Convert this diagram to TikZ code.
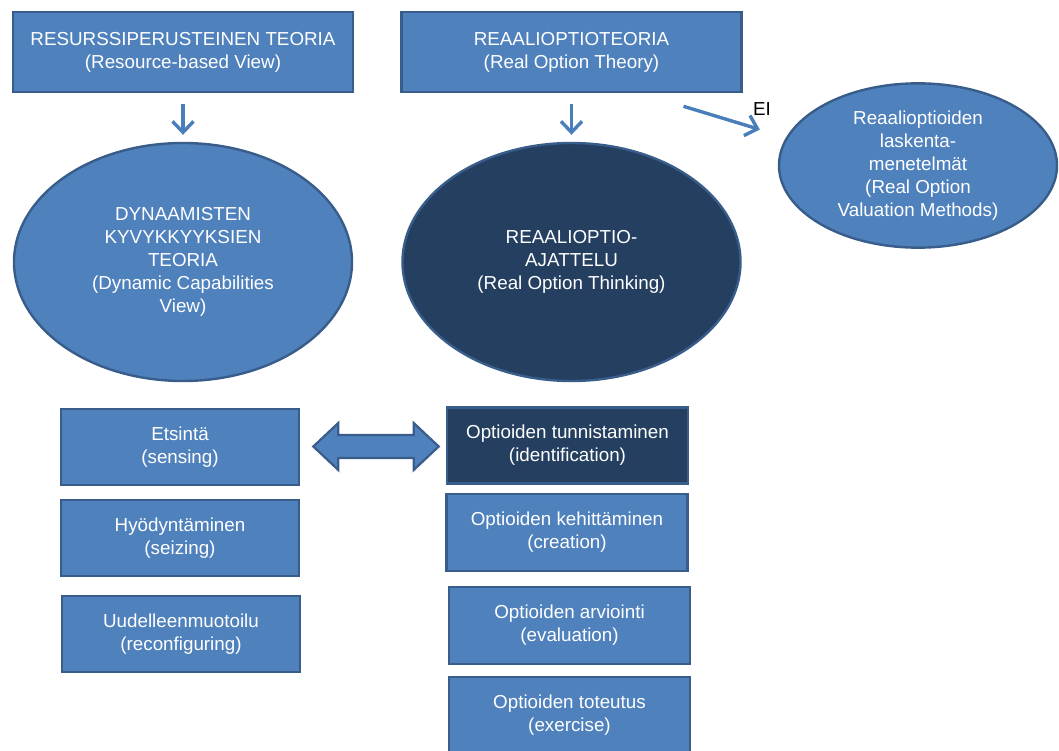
\documentclass[tikz,border=0pt]{standalone}
\usepackage{fontspec}
\setmainfont{Liberation Sans}
\usetikzlibrary{arrows.meta,shapes.geometric,calc}
\definecolor{boxblue}{HTML}{4F81BD}
\definecolor{boxline}{HTML}{385D8A}
\definecolor{darkblue}{HTML}{243F60}
\definecolor{arrowblue}{HTML}{4A7EBB}

\begin{document}
\begin{tikzpicture}[x=1pt,y=-1pt,
  txt/.style={text=white,align=center,font=\fontsize{18.8}{23}\selectfont},
  theory/.style={txt,draw=boxline,fill=boxblue,line width=2.6pt,minimum width=340,minimum height=80},
  bubble/.style={txt,ellipse,draw=boxline,fill=boxblue,line width=2.4pt,minimum width=338,minimum height=238},
  capab/.style={txt,draw=boxline,fill=boxblue,line width=2.6pt,minimum width=238,minimum height=76},
  phase/.style={txt,draw=boxline,fill=boxblue,line width=2.6pt,minimum width=241,minimum height=76},
  flow/.style={draw=arrowblue,line width=3.4pt,-{Straight Barb[length=11pt,width=21pt]}}]
  \useasboundingbox (0,0) rectangle (1059,751);
  \clip (0,0) rectangle (1059,751);

  % Theories
  \node[theory] (rbv) at (183,52) {RESURSSIPERUSTEINEN TEORIA\\(Resource-based View)};
  \node[theory] (rot) at (571.5,52) {REAALIOPTIOTEORIA\\(Real Option Theory)};

  % Ellipses
  \node[bubble] (dcv) at (183,262) {DYNAAMISTEN\\KYVYKKYYKSIEN\\TEORIA\\(Dynamic Capabilities\\View)};
  \node[bubble,fill=darkblue] (rothink) at (571.5,262) {REAALIOPTIO-\\AJATTELU\\(Real Option Thinking)};
  \node[bubble,minimum width=278,minimum height=140] (val) at (918,165.5) {Reaalioptioiden\\laskenta-\\menetelmät\\(Real Option\\Valuation Methods)};

  % Dynamic capabilities
  \node[capab] (etsinta) at (180,447) {Etsintä\\(sensing)};
  \node[capab] (hyod) at (180,538) {Hyödyntäminen\\(seizing)};
  \node[capab] (uud) at (181,634) {Uudelleenmuotoilu\\(reconfiguring)};

  % Option phases
  \node[phase,fill=darkblue] (tunn) at (567.5,445.5) {Optioiden tunnistaminen\\(identification)};
  \node[phase,minimum height=77] (keh) at (567,532.5) {Optioiden kehittäminen\\(creation)};
  \node[phase,minimum height=77] (arv) at (569.5,625.5) {Optioiden arviointi\\(evaluation)};
  \node[phase,minimum height=77] (tot) at (569.5,715.5) {Optioiden toteutus\\(exercise)};

  % Arrows
  \draw[flow,shorten <=11pt,shorten >=7pt] (rbv) -- (dcv);
  \draw[flow,shorten <=11pt,shorten >=7pt] (rot) -- (rothink);
  \draw[flow] ($(rot.south)+(112,13)$) -- ($(val.west)+(-18,-36)$);
  \node[font=\fontsize{18.8}{23}\selectfont] (ei) at (762,109) {EI};

  % Double arrow
  \coordinate (dl) at ($(etsinta.east)+(13,-0.5)$);
  \coordinate (dr) at ($(tunn.west)+(-7,1)$);
  \draw[fill=boxblue,draw=boxline,line width=2.2pt,line join=miter]
    (dl) -- ($(dl)+(25,-23.5)$) -- ($(dl)+(25,-11.5)$) -- ($(dr)+(-25,-11.5)$)
    -- ($(dr)+(-25,-23.5)$) -- (dr) -- ($(dr)+(-25,23.5)$) -- ($(dr)+(-25,11.5)$)
    -- ($(dl)+(25,11.5)$) -- ($(dl)+(25,23.5)$) -- cycle;

\end{tikzpicture}
\end{document}
